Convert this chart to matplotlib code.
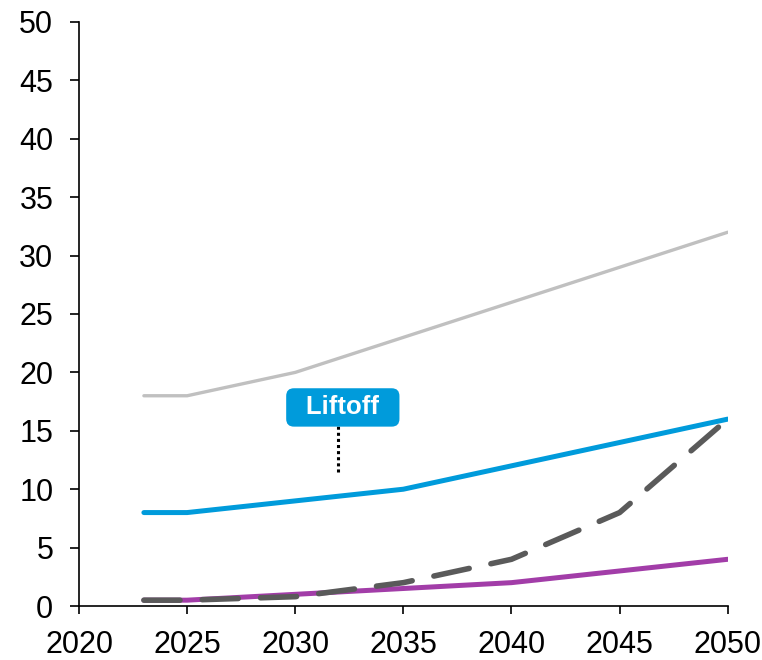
import matplotlib
matplotlib.use("Agg")
import matplotlib.pyplot as plt

years = [2023, 2025, 2030, 2035, 2040, 2045, 2050]
grey_series = [18, 18, 20, 23, 26, 29, 32]
blue_series = [8, 8, 9, 10, 12, 14, 16]
purple_series = [0.5, 0.5, 1, 1.5, 2, 3, 4]
dashed_series = [0.5, 0.5, 0.8, 2, 4, 8, 16]
xticks = [2020, 2025, 2030, 2035, 2040, 2045, 2050]
yticks = list(range(0, 55, 5))
label_text = "\u2002Liftoff\u2002"

plt.rcParams['font.family'] = ["Liberation Sans", "DejaVu Sans"]

fig = plt.figure(figsize=(7.62, 6.6), dpi=100)
ax = fig.add_axes([0.1037, 0.0818, 0.8513, 0.8849])

ax.plot(years, grey_series, color="#C0C0C0", lw=2.4, solid_capstyle="round", zorder=2)
ax.plot(years, blue_series, color="#009BDB", lw=3.6, solid_capstyle="round", zorder=3)
ax.plot(years, purple_series, color="#A23DA8", lw=3.6, solid_capstyle="round", zorder=3)
ax.plot(years, dashed_series, color="#5A5A5A", lw=4.0, dashes=(6.5, 4.0),
        dash_capstyle="round", zorder=4)

ax.set_xlim(2020, 2050)
ax.set_ylim(0, 50)
ax.set_xticks(xticks)
ax.set_yticks(yticks)
ax.spines['top'].set_visible(False)
ax.spines['right'].set_visible(False)
ax.spines['left'].set_linewidth(1.2)
ax.spines['bottom'].set_linewidth(1.2)
ax.tick_params(axis='x', direction='out', length=5.5, width=1.2, labelsize=22, pad=12)
ax.tick_params(axis='y', direction='out', length=6.5, width=1.2, labelsize=22, pad=12)

ax.plot([2032, 2032], [11.5, 15.6], color="black", lw=2.2, linestyle=(0, (1, 1)), zorder=5)
ax.text(2032.2, 17.0, label_text, ha="center", va="center", color="white",
        fontsize=18.5, fontweight="bold",
        bbox=dict(boxstyle="round,pad=0.28,rounding_size=0.3", fc="#009BDB", ec="none"),
        zorder=6)

fig.savefig("out.png", dpi=100)
